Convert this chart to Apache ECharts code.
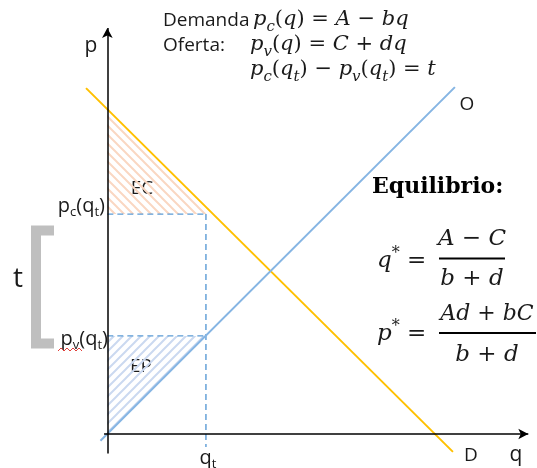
<!DOCTYPE html>
<html>
<head>
<meta charset="utf-8">
<script src="https://cdn.jsdelivr.net/npm/echarts@6/dist/echarts.min.js"></script>
<style>
  html, body { margin: 0; padding: 0; background: #fff; }
  #chart { width: 537px; height: 468px; }
</style>
</head>
<body>
<div id="chart"></div>
<script>
// (q horizontally, p vertically)
const demandQ = [-0.65, 10.55];
const demandP = [10.65, -0.55];
const supplyQ = [-0.21, 10.61];
const supplyP = [-0.21, 10.68];
const qT = 3.01;
const pcT = 6.77;
const pvT = 3.02;
const qtDashEnd = -0.4;
const ecQ = [0, 0, 3.23];
const ecP = [10.0, 6.77, 6.77];
const epQ = [0, 3.0, 0];
const epP = [3.02, 3.02, 0];
// axis arrows: [start, end]
const pAxisSpan = [-0.6, 12.5];
const qAxisSpan = [-0.1, 12.85];

const pts = (qs, ps) => qs.map((q, i) => [q, ps[i]]);

function hatch(color, back) {
  const n = 9;
  const c = document.createElement("canvas");
  c.width = c.height = n;
  const g = c.getContext("2d");
  g.strokeStyle = color;
  g.lineWidth = 2;
  g.beginPath();
  for (let k = -1; k <= 1; k++) {
    if (back) { g.moveTo(-1, -1 + n * k); g.lineTo(n + 1, n + 1 + n * k); }
    else { g.moveTo(-1, n + 1 + n * k); g.lineTo(n + 1, -1 + n * k); }
  }
  g.stroke();
  return c;
}

const sans = "'Open Sans', sans-serif";
const serif = "'DejaVu Serif', serif";
const ink = "#1a1a1a";

function mathRich(size, subRatio) {
  const sub = Math.round(size * (subRatio || 0.68));
  return {
    i: { fontFamily: serif, fontStyle: "italic", fontSize: size, lineHeight: size + 8, color: ink },
    u: { fontFamily: serif, fontSize: size, lineHeight: size + 8, color: ink },
    s: { fontFamily: serif, fontStyle: "italic", fontSize: sub, lineHeight: sub, verticalAlign: "bottom", color: ink },
    sup: { fontFamily: serif, fontSize: Math.round(size * 0.7), lineHeight: Math.round(size * 0.7), verticalAlign: "top", color: ink }
  };
}
const txtRich = {
  n: { fontFamily: sans, fontSize: 20, lineHeight: 26, color: ink },
  s: { fontFamily: sans, fontSize: 13, lineHeight: 13, verticalAlign: "bottom", color: ink }
};

function label(x, y, text, opts) {
  return {
    type: "text", x, y, silent: true,
    style: Object.assign({ text, fill: ink, fontFamily: sans, fontSize: 19, align: "center", verticalAlign: "middle" }, opts || {})
  };
}

const squiggle = [];
for (let x = 58, k = 0; x <= 82; x += 3, k++) squiggle.push([x, k % 2 ? 348 : 351]);

const chart = echarts.init(document.getElementById("chart"), null, { renderer: "canvas" });

const lineSeries = (data, color, width, type) => ({
  type: "line", data, symbol: "none", clip: false, silent: true, animation: false,
  lineStyle: { color, width, type: type || "solid" }
});
const polySeries = (data, canvas) => ({
  type: "custom", coordinateSystem: "cartesian2d", data, clip: false, silent: true, animation: false,
  renderItem: (params, api) => params.dataIndex !== 0 ? null : {
    type: "polygon",
    shape: { points: data.map((d) => api.coord(d)) },
    style: { fill: { image: canvas, repeat: "repeat" } }
  }
});

const hidden = { show: false };
const mHead = mathRich(21, 0.72);
const m23 = mathRich(23);

chart.setOption({
  animation: false,
  grid: { left: 84.4, right: 8.7, top: 28, bottom: 12.9 },
  xAxis: { type: "value", min: -0.7, max: 12.85, axisLine: hidden, axisTick: hidden, axisLabel: hidden, splitLine: hidden },
  yAxis: { type: "value", min: -0.65, max: 12.5, axisLine: hidden, axisTick: hidden, axisLabel: hidden, splitLine: hidden },
  series: [
    polySeries(pts(ecQ, ecP), hatch("#fad7c2", true)),
    polySeries(pts(epQ, epP), hatch("#cbd9f0", false)),
    {
      type: "line", data: [], silent: true, animation: false,
      markLine: {
        silent: true, animation: false,
        symbol: ["none", "arrow"], symbolSize: [8, 10],
        label: { show: false },
        lineStyle: { color: "#000", width: 1.5, type: "solid" },
        data: [
          [{ coord: [0, pAxisSpan[0]] }, { coord: [0, pAxisSpan[1]] }],
          [{ coord: [qAxisSpan[0], 0] }, { coord: [qAxisSpan[1], 0] }]
        ]
      }
    },
    lineSeries([[0, pcT], [qT, pcT]], "#5b9bd5", 1.4, [6, 4]),
    lineSeries([[qT, pcT], [qT, qtDashEnd]], "#5b9bd5", 1.4, [6, 4]),
    lineSeries([[0, pvT], [qT, pvT]], "#5b9bd5", 1.4, [6, 4]),
    lineSeries(pts(demandQ, demandP), "#ffc000", 2),
    lineSeries(pts(supplyQ, supplyP), "#86b5e3", 2)
  ],
  graphic: [
    label(91, 46, "p", { fontSize: 21 }),
    label(163, 21, "Demanda", { align: "left" }),
    label(163, 46, "Oferta:", { align: "left" }),
    label(253, 20, "{i|p}{s|c}{u|(}{i|q}{u|) = }{i|A}{u| − }{i|bq}", { align: "left", rich: mHead }),
    label(250, 45, "{i|p}{s|v}{u|(}{i|q}{u|) = }{i|C}{u| + }{i|dq}", { align: "left", rich: mHead }),
    label(250, 70, "{i|p}{s|c}{u|(}{i|q}{s|t}{u|) − }{i|p}{s|v}{u|(}{i|q}{s|t}{u|) = }{i|t}", { align: "left", rich: mHead }),
    label(467, 105, "O"),
    label(471, 456, "D"),
    label(516, 455, "q", { fontSize: 21 }),
    label(142, 189, "EC"),
    label(141, 367, "EP"),
    label(105, 206, "{n|p}{s|c}{n|(q}{s|t}{n|)}", { align: "right", rich: txtRich }),
    label(108, 339, "{n|p}{s|v}{n|(q}{s|t}{n|)}", { align: "right", rich: txtRich }),
    label(208, 458, "{n|q}{s|t}", { rich: txtRich }),
    label(18, 279, "t", { fontSize: 28 }),
    { type: "polyline", silent: true, shape: { points: [[54, 230.5], [36, 230.5], [36, 343.5], [54, 343.5]] },
      style: { stroke: "#bfbfbf", lineWidth: 10, fill: null, lineJoin: "miter", lineCap: "butt" } },
    { type: "polyline", silent: true, shape: { points: squiggle }, style: { stroke: "#e0403a", lineWidth: 1, fill: null } },
    label(372, 187, "Equilibrio:", { align: "left", fontFamily: serif, fontWeight: "bold", fontSize: 22, fill: "#000" }),
    label(377, 261, "{i|q}{sup|*}{u| =}", { align: "left", rich: m23 }),
    label(472, 239, "{i|A}{u| − }{i|C}", { rich: m23 }),
    { type: "line", silent: true, shape: { x1: 439, y1: 258.5, x2: 505, y2: 258.5 }, style: { stroke: "#000", lineWidth: 2 } },
    label(472, 279, "{i|b}{u| + }{i|d}", { rich: m23 }),
    label(377, 334, "{i|p}{sup|*}{u| =}", { align: "left", rich: m23 }),
    label(487, 314, "{i|Ad}{u| + }{i|bC}", { rich: mathRich(22) }),
    { type: "line", silent: true, shape: { x1: 439, y1: 333, x2: 536, y2: 333 }, style: { stroke: "#000", lineWidth: 2 } },
    label(487, 355, "{i|b}{u| + }{i|d}", { rich: m23 })
  ]
});
</script>
</body>
</html>
